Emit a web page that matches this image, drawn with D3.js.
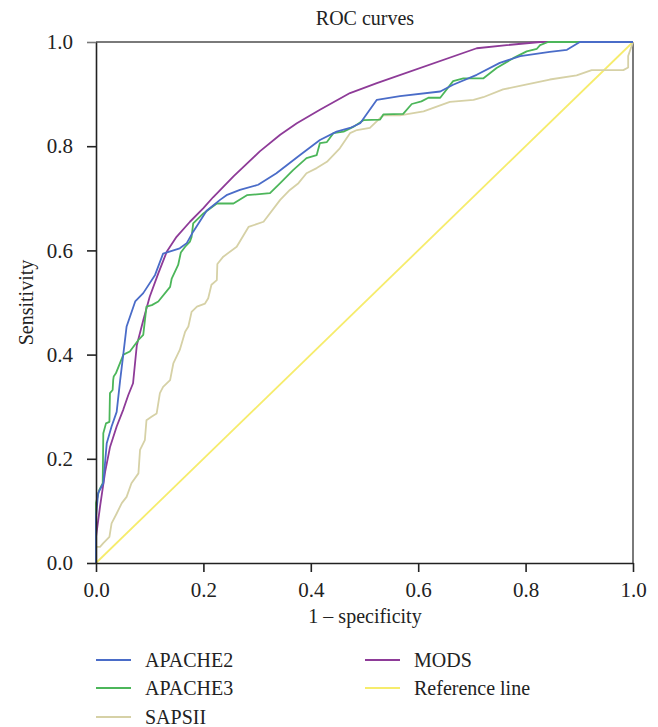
<!DOCTYPE html>
<html>
<head>
<meta charset="utf-8">
<script src="https://cdn.jsdelivr.net/npm/d3@7"></script>
<style>
  html, body { margin: 0; padding: 0; background: #fff; }
  svg text { font-family: "Liberation Serif", "DejaVu Serif", serif; fill: #222; }
</style>
</head>
<body>
<svg id="chart" width="658" height="727"></svg>
<script>
// ---- data (FPR = 1 - specificity, TPR = sensitivity) ----
const xTicks = [0.0, 0.2, 0.4, 0.6, 0.8, 1.0];
const yTicks = [0.0, 0.2, 0.4, 0.6, 0.8, 1.0];

const apache2 = [[0,0],[0,0.089],[0.004,0.134],[0.0136,0.153],[0.02,0.23],[0.029,0.262],[0.0385,0.29],[0.045,0.351],[0.051,0.402],[0.057,0.454],[0.073,0.502],[0.088,0.518],[0.11,0.553],[0.125,0.594],[0.156,0.604],[0.169,0.614],[0.181,0.636],[0.206,0.676],[0.231,0.697],[0.243,0.706],[0.268,0.716],[0.302,0.726],[0.336,0.748],[0.38,0.783],[0.417,0.812],[0.448,0.828],[0.473,0.835],[0.492,0.844],[0.523,0.889],[0.566,0.896],[0.641,0.905],[0.665,0.918],[0.709,0.937],[0.752,0.96],[0.79,0.973],[0.845,0.981],[0.877,0.985],[0.901,1.0],[1,1]];

const apache3 = [[0,0],[0,0.115],[0.006,0.14],[0.0125,0.153],[0.0136,0.249],[0.0186,0.268],[0.025,0.271],[0.026,0.326],[0.031,0.332],[0.032,0.351],[0.033,0.358],[0.037,0.364],[0.051,0.40],[0.063,0.406],[0.079,0.428],[0.088,0.438],[0.094,0.492],[0.104,0.495],[0.116,0.502],[0.138,0.53],[0.141,0.546],[0.153,0.572],[0.158,0.596],[0.166,0.607],[0.175,0.617],[0.178,0.626],[0.181,0.652],[0.20,0.671],[0.225,0.69],[0.256,0.69],[0.281,0.706],[0.324,0.71],[0.343,0.729],[0.367,0.754],[0.392,0.777],[0.411,0.783],[0.417,0.806],[0.43,0.808],[0.442,0.825],[0.461,0.828],[0.479,0.837],[0.498,0.85],[0.529,0.851],[0.535,0.861],[0.572,0.862],[0.588,0.881],[0.606,0.886],[0.619,0.893],[0.641,0.893],[0.665,0.925],[0.684,0.93],[0.721,0.93],[0.746,0.95],[0.777,0.969],[0.802,0.982],[0.821,0.987],[0.827,0.994],[0.842,1.0],[1,1]];

const sapsii = [[0,0],[0,0.031],[0.0075,0.031],[0.0136,0.038],[0.025,0.05],[0.029,0.076],[0.0385,0.095],[0.048,0.115],[0.057,0.127],[0.066,0.153],[0.079,0.172],[0.082,0.217],[0.091,0.236],[0.094,0.274],[0.104,0.281],[0.113,0.287],[0.119,0.326],[0.125,0.338],[0.138,0.351],[0.144,0.383],[0.156,0.409],[0.166,0.444],[0.172,0.454],[0.178,0.482],[0.188,0.492],[0.203,0.498],[0.209,0.508],[0.215,0.534],[0.225,0.543],[0.226,0.574],[0.237,0.588],[0.262,0.607],[0.284,0.645],[0.312,0.655],[0.343,0.697],[0.361,0.716],[0.377,0.729],[0.392,0.748],[0.411,0.758],[0.43,0.77],[0.454,0.796],[0.473,0.825],[0.486,0.831],[0.51,0.835],[0.529,0.854],[0.535,0.859],[0.566,0.859],[0.61,0.867],[0.659,0.885],[0.703,0.889],[0.721,0.894],[0.758,0.909],[0.796,0.917],[0.845,0.928],[0.895,0.936],[0.923,0.946],[0.982,0.946],[0.991,0.951],[0.991,0.973],[1,1]];

const mods = [[0,0],[0,0.05],[0.0075,0.108],[0.017,0.175],[0.026,0.222],[0.0385,0.262],[0.051,0.295],[0.06,0.322],[0.069,0.345],[0.076,0.418],[0.088,0.466],[0.10,0.511],[0.116,0.556],[0.132,0.598],[0.15,0.626],[0.175,0.655],[0.20,0.681],[0.218,0.702],[0.256,0.742],[0.305,0.790],[0.343,0.822],[0.374,0.844],[0.417,0.87],[0.473,0.902],[0.523,0.921],[0.709,0.988],[0.765,0.994],[0.827,1.0],[1,1]];

const referenceLine = [[0,0],[1,1]];

const seriesNames = ["APACHE2", "APACHE3", "SAPSII", "MODS", "Reference line"];
const seriesColors = ["#4a6cc8", "#4cb65a", "#d6d1a6", "#8e3b98", "#f6ec6c"];
const seriesData = [apache2, apache3, sapsii, mods, referenceLine];

// ---- layout ----
const svg = d3.select("#chart");
const L = 96, R = 633, T = 42, B = 563;
const x = d3.scaleLinear().domain([0, 1]).range([L, R]);
const y = d3.scaleLinear().domain([0, 1]).range([B, T]);

// frame (top & right gray)
svg.append("line").attr("x1", L).attr("x2", R).attr("y1", T).attr("y2", T)
  .attr("stroke", "#7a7a7a").attr("stroke-width", 2);
svg.append("line").attr("x1", R).attr("x2", R).attr("y1", T).attr("y2", B)
  .attr("stroke", "#7a7a7a").attr("stroke-width", 2);

// curves
const line = d3.line().x(d => x(d[0])).y(d => y(d[1]));
const drawOrder = [4, 2, 3, 1, 0];
drawOrder.forEach(i => {
  svg.append("path").datum(seriesData[i])
    .attr("d", line)
    .attr("fill", "none")
    .attr("stroke", seriesColors[i])
    .attr("stroke-width", 1.8)
    .attr("stroke-linejoin", "round");
});

// axes
const gx = svg.append("g").attr("transform", `translate(0,${B})`)
  .call(d3.axisBottom(x).tickValues(xTicks).tickFormat(d3.format(".1f")).tickSize(9).tickSizeOuter(0).tickPadding(10));
const gy = svg.append("g").attr("transform", `translate(${L},0)`)
  .call(d3.axisLeft(y).tickValues(yTicks).tickFormat(d3.format(".1f")).tickSize(9).tickSizeOuter(0).tickPadding(14));
[gx, gy].forEach(g => {
  g.selectAll("path.domain").attr("stroke", "#222").attr("stroke-width", 1.6);
  g.selectAll(".tick line").attr("stroke", "#222").attr("stroke-width", 1.6);
  g.selectAll(".tick text").attr("font-size", 21).attr("fill", "#222")
    .attr("font-family", "Liberation Serif, DejaVu Serif, serif");
});
// top 1.0 tick in gray, like the frame
gy.selectAll(".tick").filter(d => d === 1).select("line").attr("stroke", "#7a7a7a");

// title and axis labels
svg.append("text").attr("x", 365).attr("y", 25).attr("text-anchor", "middle")
  .attr("font-size", 20).text("ROC curves");
svg.append("text").attr("x", 365).attr("y", 623).attr("text-anchor", "middle")
  .attr("font-size", 20).text("1 – specificity");
svg.append("text").attr("transform", `translate(33,${(T + B) / 2}) rotate(-90)`)
  .attr("text-anchor", "middle").attr("font-size", 20).text("Sensitivity");

// legend
const legendPos = [[96, 660], [96, 688], [96, 717], [365, 660], [365, 688]];
seriesNames.forEach((name, i) => {
  const [lx, ly] = legendPos[i];
  svg.append("line").attr("x1", lx).attr("x2", lx + 35).attr("y1", ly).attr("y2", ly)
    .attr("stroke", seriesColors[i]).attr("stroke-width", 2);
  svg.append("text").attr("x", lx + 49).attr("y", ly + 7)
    .attr("font-size", 20).text(name);
});
</script>
</body>
</html>
